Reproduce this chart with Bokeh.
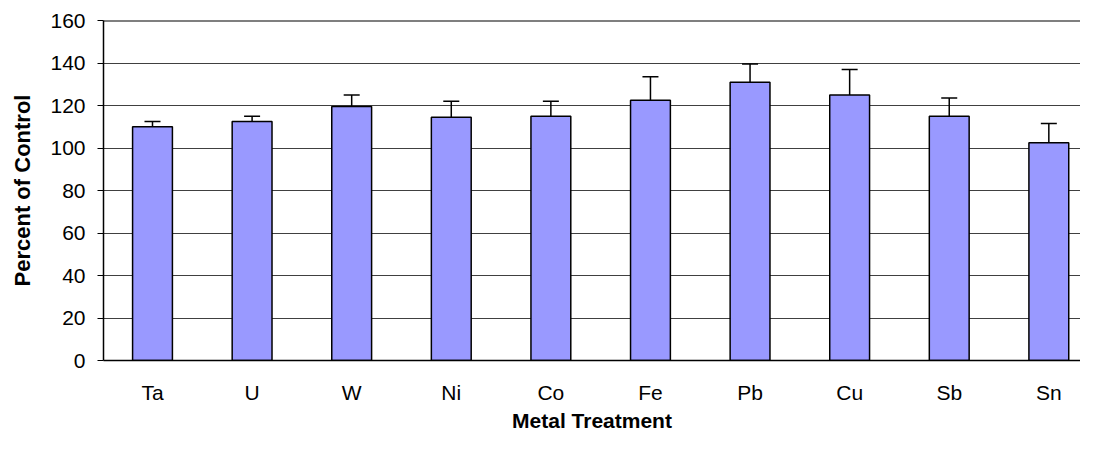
from bokeh.plotting import figure
from bokeh.models import Range1d, FixedTicker, Whisker, ColumnDataSource, Span, TeeHead
from bokeh.embed import file_html
from bokeh.resources import INLINE

metals = ["Ta", "U", "W", "Ni", "Co", "Fe", "Pb", "Cu", "Sb", "Sn"]
percent = [110, 112.5, 119.5, 114.5, 115, 122.5, 131, 125, 115, 102.5]
error = [2.5, 2.5, 5.5, 7.5, 7, 11, 8.5, 12, 8.5, 9]
y_ticks = [0, 20, 40, 60, 80, 100, 120, 140, 160]

idx = list(range(len(metals)))
upper = [p + e for p, e in zip(percent, error)]
src = ColumnDataSource(dict(x=idx, top=percent, upper=upper))

FONT = "Liberation Sans"

p = figure(width=1080, height=434, output_backend="svg", toolbar_location=None,
           x_range=Range1d(-0.492, 9.318), y_range=Range1d(0, 160),
           min_border_left=103, min_border_right=0, min_border_top=20, min_border_bottom=74)
p.outline_line_color = None
p.background_fill_color = "white"
p.border_fill_color = "white"

p.vbar(x="x", top="top", bottom=0, width=0.4, source=src,
       fill_color="#9999FF", line_color="black", line_width=1.5)

w = Whisker(base="x", lower="top", upper="upper", source=src,
            line_color="black", line_width=1.5,
            upper_head=TeeHead(size=16, line_color="black", line_width=1.5),
            lower_head=None)
p.add_layout(w)

p.add_layout(Span(location=160, dimension="width", line_color="black", line_width=2))

# grid
p.xgrid.grid_line_color = None
p.ygrid.ticker = FixedTicker(ticks=y_ticks)
p.ygrid.grid_line_color = "#404040"
p.ygrid.grid_line_width = 1

# y axis
p.yaxis.ticker = FixedTicker(ticks=y_ticks)
p.yaxis.axis_line_color = "black"
p.yaxis.axis_line_width = 1.5
p.yaxis.major_tick_out = 6
p.yaxis.major_tick_in = 0
p.yaxis.minor_tick_line_color = None
p.yaxis.major_tick_line_color = "black"
p.yaxis.major_label_text_font = FONT
p.yaxis.major_label_text_font_size = "21px"
p.yaxis.major_label_text_color = "black"
p.yaxis.major_label_standoff = 12
p.yaxis.axis_label = "Percent of Control"
p.yaxis.axis_label_text_font = FONT
p.yaxis.axis_label_text_font_size = "22px"
p.yaxis.axis_label_text_font_style = "bold"
p.yaxis.axis_label_text_color = "black"
p.yaxis.axis_label_standoff = 12

# x axis
p.xaxis.ticker = FixedTicker(ticks=idx)
p.xaxis.major_label_overrides = {i: m for i, m in zip(idx, metals)}
p.xaxis.axis_line_color = "black"
p.xaxis.axis_line_width = 1.5
p.xaxis.major_tick_out = 0
p.xaxis.major_tick_in = 0
p.xaxis.minor_tick_line_color = None
p.xaxis.major_tick_line_color = None
p.xaxis.major_label_text_font = FONT
p.xaxis.major_label_text_font_size = "21px"
p.xaxis.major_label_text_color = "black"
p.xaxis.major_label_standoff = 20
p.xaxis.axis_label = "Metal Treatment"
p.xaxis.axis_label_text_font = FONT
p.xaxis.axis_label_text_font_size = "21px"
p.xaxis.axis_label_text_font_style = "bold"
p.xaxis.axis_label_text_color = "black"
p.xaxis.axis_label_standoff = 2

open("out.html", "w").write(file_html(p, INLINE))
